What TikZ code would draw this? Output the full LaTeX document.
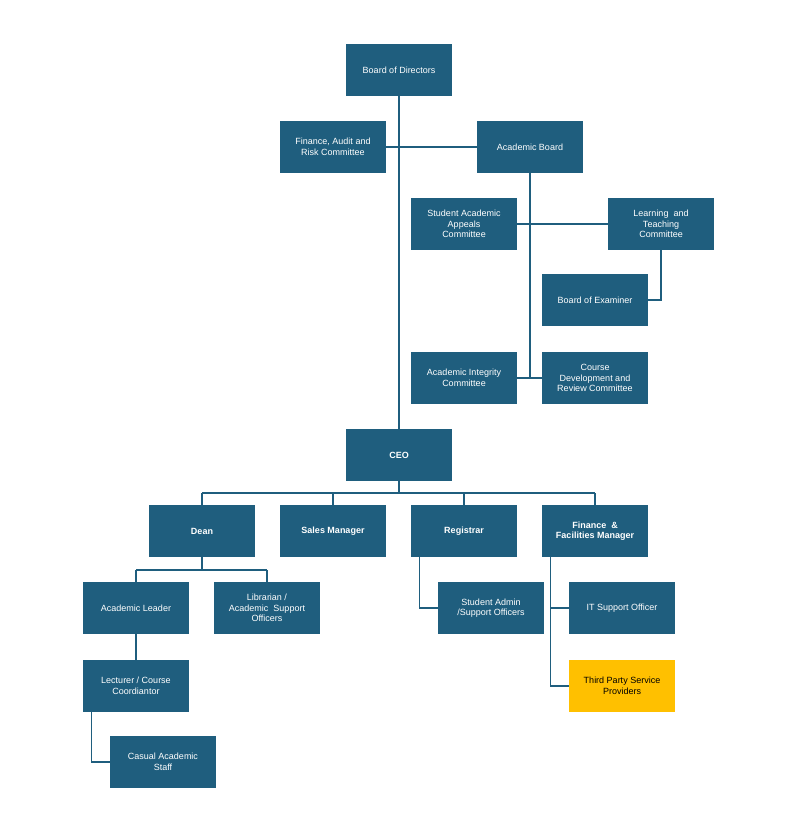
\documentclass[tikz,border=0pt]{standalone}
\usepackage{fontspec}
\setmainfont{Liberation Sans}
\definecolor{orgblue}{RGB}{31,94,126}
\definecolor{orgyellow}{RGB}{255,192,0}
\tikzset{
  unit/.style={fill=orgblue,text=white,minimum width=106pt,minimum height=52pt,
    inner sep=1pt,align=center,font=\fontsize{9}{10.5}\selectfont},
  link/.style={draw=orgblue,line width=1.3pt}
}
\begin{document}
\begin{tikzpicture}[x=1pt,y=-1pt]
    \useasboundingbox (0,0) rectangle (806,821);

    \node[unit] (bod) at (399,70) {Board of Directors};
    \node[unit] (far) at (333,147) {Finance, Audit and\\Risk Committee};
    \node[unit] (ab) at (530,147) {Academic Board};
    \node[unit] (saa) at (464,224) {Student Academic\\Appeals\\Committee};
    \node[unit] (lt) at (661,224) {Learning \ and\\Teaching\\Committee};
    \node[unit] (boe) at (595,300) {Board of Examiner};
    \node[unit] (aic) at (464,378) {Academic Integrity\\Committee};
    \node[unit] (cdr) at (595,378) {Course\\Development and\\Review Committee};
    \node[unit,font=\fontsize{9}{10.5}\selectfont\bfseries] (ceo) at (399,455) {CEO};

    \foreach \n/\x/\t in {dean/202/Dean,sales/333/Sales Manager,reg/464/Registrar,
        fin/595/{Finance \ \&\\Facilities Manager}}
        \node[unit,font=\fontsize{9}{10.5}\selectfont\bfseries] (\n) at (\x,531) {\t};

    \node[unit] (al) at (136,608) {Academic Leader};
    \node[unit] (lib) at (267,608) {Librarian /\\Academic \ Support\\Officers};
    \node[unit] (sad) at (491,608) {Student Admin\\/Support Officers};
    \node[unit] (it) at (622,608) {IT Support Officer};
    \node[unit] (lec) at (136,686) {Lecturer / Course\\Coordiantor};
    \node[unit,fill=orgyellow,text=black] (tps) at (622,686) {Third Party Service\\Providers};
    \node[unit] (cas) at (163,762) {Casual Academic\\Staff};

    % governance
    \draw[link] (bod) -- (ceo);
    \draw[link] (far) -- (ab);
    \draw[link] (ab.south) -- (530,378) coordinate (abend);
    \draw[link] (aic) -- (cdr);
    \draw[link] (saa) -- (lt);
    \draw[link] (lt.south) |- (boe.east);

    % management
    \draw[link] (ceo.south) -- (399,493) coordinate (ceobus);
    \draw[link] (202,493) -- (595,493);
    \foreach \n/\x in {dean/202,sales/333,reg/464,fin/595}
        \draw[link] (\x,493) -- (\n.north);
    \draw[link] (dean.south) -- (202,570);
    \draw[link] (136,570) -- (267,570);
    \foreach \n/\x in {al/136,lib/267}
        \draw[link] (\x,570) -- (\n.north);
    \draw[link] (al) -- (lec);
    \draw[link] (lec.south west) ++(9,0) |- (cas.west);
    \draw[link] (reg.south west) ++(9,0) |- (sad.west);
    \draw[link] (fin.south west) ++(9,0) |- (tps.west);
    \draw[link] (551,608) -- (it.west);
\end{tikzpicture}
\end{document}
